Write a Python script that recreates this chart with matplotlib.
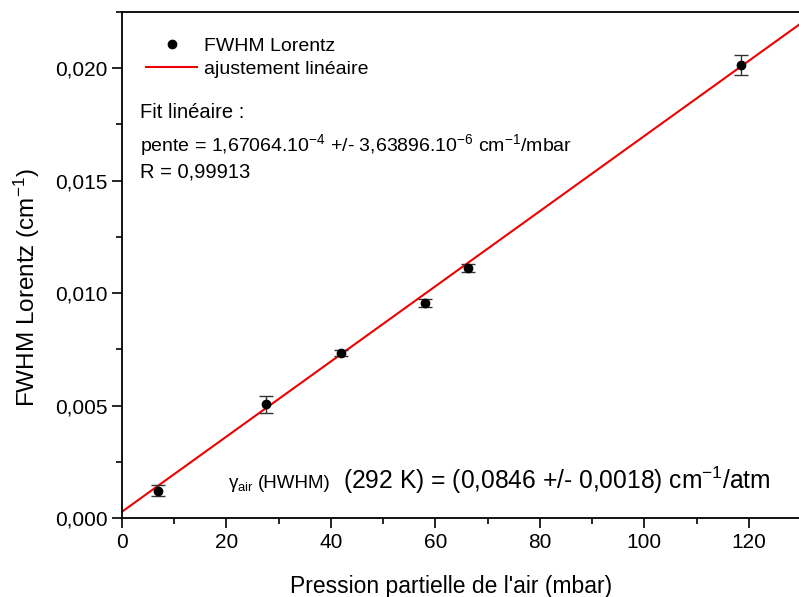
import matplotlib
matplotlib.use("Agg")
import matplotlib.pyplot as plt
from matplotlib.ticker import FuncFormatter, MultipleLocator
from matplotlib.lines import Line2D
import numpy as np

plt.rcParams['font.family'] = ['Liberation Sans', 'DejaVu Sans']
plt.rcParams['mathtext.fontset'] = 'custom'
plt.rcParams['mathtext.rm'] = 'Liberation Sans'
plt.rcParams['mathtext.it'] = 'Liberation Sans'
plt.rcParams['mathtext.default'] = 'regular'

# data
pression = [6.9, 27.5, 42.0, 58.0, 66.3, 118.6]
fwhm = [0.00122, 0.00505, 0.00735, 0.00958, 0.01113, 0.02015]
erreur = [0.00025, 0.00038, 0.00013, 0.00018, 0.00018, 0.00044]

pente = 1.67064e-4
ordonnee = 0.00028

fig = plt.figure(figsize=(7.99, 5.97), dpi=100)
ax = fig.add_axes([122/799, 1 - 518/597, 679/799, (518 - 12)/597])

x_fit = np.array([0, 135])
ax.plot(x_fit, ordonnee + pente * x_fit, color='#ee0000', lw=1.5, zorder=2)
ax.errorbar(pression, fwhm, yerr=erreur, fmt='o', color='black', ms=6,
            ecolor='#333333', elinewidth=1, capsize=5, capthick=1, zorder=3)

ax.set_xlim(0, 130)
ax.set_ylim(0, 0.0225)
ax.spines['right'].set_visible(False)
for s in ['left', 'bottom', 'top']:
    ax.spines[s].set_linewidth(1.3)

ax.xaxis.set_major_locator(MultipleLocator(20))
ax.xaxis.set_minor_locator(MultipleLocator(10))
ax.yaxis.set_major_locator(MultipleLocator(0.005))
ax.yaxis.set_minor_locator(MultipleLocator(0.0025))
ax.yaxis.set_major_formatter(FuncFormatter(lambda v, p: f"{v:.3f}".replace('.', ',')))
ax.tick_params(which='major', direction='out', length=7, width=1.2, labelsize=15)
ax.tick_params(which='minor', direction='out', length=4, width=1.2)

ax.set_xlabel("Pression partielle de l'air (mbar)", fontsize=16.5)
ax.set_ylabel("FWHM Lorentz (cm$^{-1}$)", fontsize=17.5)
ax.xaxis.set_label_coords(0.4845, -0.112)
ax.yaxis.set_label_coords(-0.118, 0.4545)

handles = [Line2D([], [], marker='o', ls='none', color='black', ms=6),
           Line2D([], [], color='#ee0000', lw=1.5)]
ax.legend(handles, ['FWHM Lorentz', 'ajustement linéaire'], loc='upper left',
          frameon=False, fontsize=14, bbox_to_anchor=(0.01, 0.985),
          handlelength=2.6, handletextpad=0.35, labelspacing=0.3)

fig.text(140/799, 1 - 113/597, "Fit linéaire :", fontsize=14.5, va='center')
fig.text(140/799, 1 - 145/597,
         "pente = 1,67064.10$^{-4}$ +/- 3,63896.10$^{-6}$ cm$^{-1}$/mbar",
         fontsize=14, va='center')
fig.text(140/799, 1 - 172/597, "R = 0,99913", fontsize=14.5, va='center')

fig.text(228/799, 1 - 488/597, "γ$_{air}$", fontsize=13.5, va='baseline')
fig.text(258/799, 1 - 488/597, "(HWHM)", fontsize=13.5, va='baseline')
fig.text(343/799, 1 - 489/597,
         "(292 K) = (0,0846 +/- 0,0018) cm$^{-1}$/atm", fontsize=17.7, va='baseline')

fig.savefig("out.png", dpi=100)
